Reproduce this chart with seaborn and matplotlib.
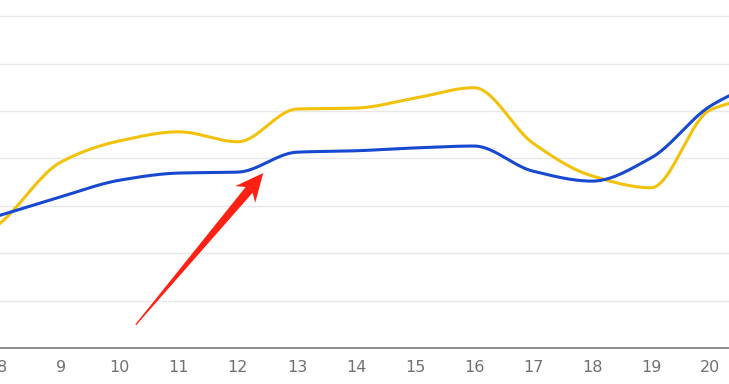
import matplotlib
matplotlib.use("Agg")
import matplotlib.pyplot as plt
from matplotlib.patches import Polygon
import numpy as np
import pandas as pd
import seaborn as sns

sns.set_style("white")

# values (one grid step = 1 unit)
hours = [7, 8, 9, 10, 11, 12, 13, 14, 15, 16, 17, 18, 19, 20, 21]
blue_vals = [2.45, 2.81, 3.19, 3.54, 3.69, 3.71, 4.13, 4.16, 4.22, 4.26, 3.73, 3.52, 4.01, 5.10, 5.70]
yellow_vals = [1.70, 2.66, 3.92, 4.37, 4.56, 4.35, 5.04, 5.06, 5.27, 5.49, 4.32, 3.63, 3.38, 5.02, 5.35]
tick_hours = list(range(8, 21))
grid_levels = [1, 2, 3, 4, 5, 6, 7]
arrow_tail = (10.27, 0.49)
arrow_tip = (12.43, 3.69)

BLUE = "#1748d0"
YELLOW = "#f2c10a"
RED = "#ff2214"


def monotone_curve(x, y, n=40):
    # Fritsch-Carlson monotone cubic, close to the "smooth" line of the source chart
    x = np.asarray(x, float)
    y = np.asarray(y, float)
    h = np.diff(x)
    d = np.diff(y) / h
    m = np.zeros_like(y)
    m[0], m[-1] = d[0], d[-1]
    for i in range(1, len(y) - 1):
        if d[i - 1] * d[i] <= 0:
            m[i] = 0.0
        else:
            w1 = 2 * h[i] + h[i - 1]
            w2 = h[i] + 2 * h[i - 1]
            m[i] = (w1 + w2) / (w1 / d[i - 1] + w2 / d[i])
    xs, ys = [], []
    for i in range(len(x) - 1):
        t = np.linspace(0, 1, n, endpoint=False)
        h00 = 2 * t**3 - 3 * t**2 + 1
        h10 = t**3 - 2 * t**2 + t
        h01 = -2 * t**3 + 3 * t**2
        h11 = t**3 - t**2
        xs.append(x[i] + t * h[i])
        ys.append(h00 * y[i] + h10 * h[i] * m[i] + h01 * y[i + 1] + h11 * h[i] * m[i + 1])
    xs.append([x[-1]])
    ys.append([y[-1]])
    return np.concatenate(xs), np.concatenate(ys)


def tapered_arrow(ax, tail, tip, color):
    # thin tail widening toward a triangular head, built in pixel space
    to_px = ax.transData
    p0 = np.array(to_px.transform(tail))
    p1 = np.array(to_px.transform(tip))
    v = p1 - p0
    length = np.hypot(*v)
    u = v / length
    n = np.array([-u[1], u[0]])
    head_len, head_half, shaft_half = 28, 13, 4.5
    base = p1 - u * head_len
    neck = p1 - u * (head_len - 6)
    pts = [p0 + n * 0.6, neck + n * shaft_half, base + n * head_half, p1,
           base - n * head_half, neck - n * shaft_half, p0 - n * 0.6]
    pts = to_px.inverted().transform(np.array(pts))
    ax.add_patch(Polygon(pts, closed=True, facecolor=color, edgecolor="none", zorder=4))


fig = plt.figure(figsize=(7.29, 3.84), dpi=100)
ax = fig.add_axes([0, 0.09375, 1, 0.90625])

for vals, color in [(blue_vals, BLUE), (yellow_vals, YELLOW)]:
    sx, sy = monotone_curve(hours, vals)
    df = pd.DataFrame({"hour": sx, "value": sy})
    sns.lineplot(data=df, x="hour", y="value", color=color, lw=2.2, ax=ax,
                 sort=False, zorder=3 if color == BLUE else 2)

for g in grid_levels:
    ax.axhline(g, color="#e8e8e8", lw=1.0, zorder=0)

ax.set_xlim(7.97, 20.32)
ax.set_ylim(0, 7.34)
ax.set_xticks(tick_hours)
ax.set_xticklabels([str(h) for h in tick_hours])
ax.set_yticks([])
ax.set_xlabel("")
ax.set_ylabel("")
for side in ["top", "left", "right"]:
    ax.spines[side].set_visible(False)
ax.spines["bottom"].set_color("#8c8c8c")
ax.spines["bottom"].set_linewidth(1.4)
ax.tick_params(axis="x", length=0, pad=9, labelsize=11.5, labelcolor="#707070")

tapered_arrow(ax, arrow_tail, arrow_tip, RED)

fig.savefig("out.png", dpi=100)
